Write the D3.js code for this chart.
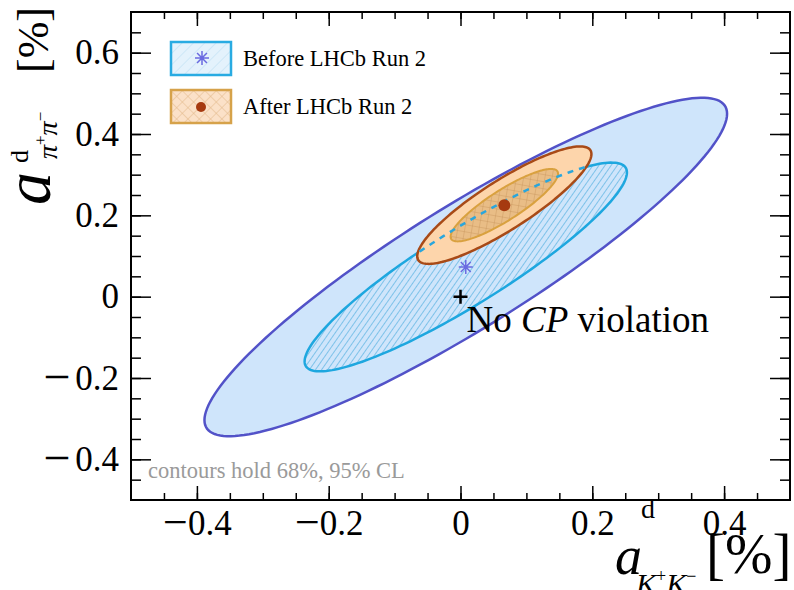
<!DOCTYPE html>
<html>
<head>
<meta charset="utf-8">
<script src="https://cdn.jsdelivr.net/npm/d3@7"></script>
<style>
  body { margin: 0; background: #fff; }
  svg text { font-family: "Liberation Serif", "DejaVu Serif", serif; }
</style>
</head>
<body>
<div id="chart"></div>
<script>
// Fit results [%]: central values, uncertainties and correlation
const samples = ['Before LHCb Run 2', 'After LHCb Run 2'];
const centralKK = [0.008, 0.0665];
const centralPiPi = [0.073, 0.225];
const sigmaKK = [0.162, 0.054];
const sigmaPiPi = [0.170, 0.059];
const correlation = [0.905, 0.87];
// delta chi2 of the 2D contours (68% and 95% CL)
const contourLevels = [2.279, 5.991];

// No CP violation point
const noCP = [0, 0];

// Axis ticks
const xMajorTicks = [-0.4, -0.2, 0, 0.2, 0.4];
const yMajorTicks = [-0.4, -0.2, 0, 0.2, 0.4, 0.6];
const xMinorTicks = d3.range(-0.45, 0.5, 0.05);
const yMinorTicks = d3.range(-0.45, 0.7, 0.05);

const width = 794, height = 590;
const margin = { top: 12, right: 4, bottom: 90, left: 131 };
const tickFont = 35;

const x = d3.scaleLinear().domain([-0.5, 0.5]).range([margin.left, width - margin.right]);
const y = d3.scaleLinear().domain([-0.5, 0.7]).range([height - margin.bottom, margin.top]);

const svg = d3.select('#chart').append('svg')
  .attr('width', width)
  .attr('height', height)
  .attr('font-family', '"Liberation Serif", serif');

// Patterns for the hatched contours
const defs = svg.append('defs');
defs.append('pattern')
  .attr('id', 'hatchBlue')
  .attr('patternUnits', 'userSpaceOnUse')
  .attr('width', 5).attr('height', 5)
  .attr('patternTransform', 'rotate(35)')
  .call(p => p.append('rect').attr('width', 5).attr('height', 5).attr('fill', '#cfe5fb'))
  .call(p => p.append('line').attr('x1', 0).attr('y1', 0).attr('x2', 0).attr('y2', 5)
    .attr('stroke', '#3aa5da').attr('stroke-width', 1.1));
defs.append('pattern')
  .attr('id', 'hatchLegendBlue')
  .attr('patternUnits', 'userSpaceOnUse')
  .attr('width', 8).attr('height', 8)
  .attr('patternTransform', 'rotate(45)')
  .call(p => p.append('rect').attr('width', 8).attr('height', 8).attr('fill', '#e4f2fc'))
  .call(p => p.append('line').attr('x1', 0).attr('y1', 0).attr('x2', 0).attr('y2', 8)
    .attr('stroke', '#b8dcf2').attr('stroke-width', 1));
defs.append('pattern')
  .attr('id', 'crossOrange')
  .attr('patternUnits', 'userSpaceOnUse')
  .attr('width', 7).attr('height', 7)
  .attr('patternTransform', 'rotate(10)')
  .call(p => p.append('rect').attr('width', 7).attr('height', 7).attr('fill', '#e9bd86'))
  .call(p => p.append('path').attr('d', 'M0,0V7M0,0H7')
    .attr('stroke', '#c7935a').attr('stroke-width', 0.8).attr('fill', 'none'));
defs.append('pattern')
  .attr('id', 'crossLegendOrange')
  .attr('patternUnits', 'userSpaceOnUse')
  .attr('width', 8).attr('height', 8)
  .attr('patternTransform', 'rotate(45)')
  .call(p => p.append('rect').attr('width', 8).attr('height', 8).attr('fill', '#fbe1c8'))
  .call(p => p.append('path').attr('d', 'M0,0V8M0,0H8')
    .attr('stroke', '#e2b888').attr('stroke-width', 1).attr('fill', 'none'));

// Contour of a 2D gaussian for sample i at level k
function contour(i, k) {
  const r = Math.sqrt(k);
  const rho = correlation[i];
  return d3.range(0, 360, 2).map(deg => {
    const t = deg * Math.PI / 180;
    return [
      centralKK[i] + r * sigmaKK[i] * Math.cos(t),
      centralPiPi[i] + r * sigmaPiPi[i] * (rho * Math.cos(t) + Math.sqrt(1 - rho * rho) * Math.sin(t))
    ];
  });
}

const line = d3.line()
  .x(d => x(d[0]))
  .y(d => y(d[1]))
  .curve(d3.curveLinearClosed);

const plot = svg.append('g');

// Before LHCb Run 2
plot.append('path')
  .attr('d', line(contour(0, contourLevels[1])))
  .attr('fill', '#cfe5fb')
  .attr('stroke', '#5252c8')
  .attr('stroke-width', 2.5);
plot.append('path')
  .attr('d', line(contour(0, contourLevels[0])))
  .attr('fill', 'url(#hatchBlue)')
  .attr('stroke', '#1ea7df')
  .attr('stroke-width', 2.5);

// After LHCb Run 2
plot.append('path')
  .attr('d', line(contour(1, contourLevels[1])))
  .attr('fill', '#fdd5ab')
  .attr('stroke', '#a84a17')
  .attr('stroke-width', 2.5);
plot.append('path')
  .attr('d', line(contour(1, contourLevels[0])))
  .attr('fill', 'url(#crossOrange)')
  .attr('stroke', '#d9a13f')
  .attr('stroke-width', 2);

// hidden part of the 68% "before" contour, dashed on top
defs.append('clipPath')
  .attr('id', 'afterClip')
  .append('path')
  .attr('d', line(contour(1, contourLevels[1])));
plot.append('path')
  .attr('d', line(contour(0, contourLevels[0])))
  .attr('fill', 'none')
  .attr('stroke', '#2aa6dc')
  .attr('stroke-width', 2.5)
  .attr('stroke-dasharray', '6,6')
  .attr('clip-path', 'url(#afterClip)');

// markers
function asterisk(g, cx, cy, r, color) {
  const p = d3.path();
  for (let a = 0; a < 180; a += 45) {
    const t = a * Math.PI / 180;
    p.moveTo(cx - r * Math.cos(t), cy - r * Math.sin(t));
    p.lineTo(cx + r * Math.cos(t), cy + r * Math.sin(t));
  }
  g.append('path').attr('d', p.toString())
    .attr('stroke', color).attr('stroke-width', 1.5).attr('fill', 'none');
}
asterisk(plot, x(centralKK[0]), y(centralPiPi[0]), 7, '#6a6ae0');
plot.append('circle')
  .attr('cx', x(centralKK[1]))
  .attr('cy', y(centralPiPi[1]))
  .attr('r', 6)
  .attr('fill', '#a63a10');

// No CP violation
const plus = d3.path();
plus.moveTo(x(noCP[0]) - 7, y(noCP[1])); plus.lineTo(x(noCP[0]) + 7, y(noCP[1]));
plus.moveTo(x(noCP[0]), y(noCP[1]) - 7); plus.lineTo(x(noCP[0]), y(noCP[1]) + 7);
plot.append('path').attr('d', plus.toString())
  .attr('stroke', '#000').attr('stroke-width', 2.5);
plot.append('text')
  .attr('x', x(noCP[0]) + 6)
  .attr('y', y(noCP[1]) + 35)
  .attr('font-size', 37)
  .call(t => t.append('tspan').text('No '))
  .call(t => t.append('tspan').attr('font-style', 'italic').text('CP'))
  .call(t => t.append('tspan').text(' violation'));

// Frame
svg.append('rect')
  .attr('x', margin.left)
  .attr('y', margin.top)
  .attr('width', width - margin.left - margin.right)
  .attr('height', height - margin.top - margin.bottom)
  .attr('fill', 'none')
  .attr('stroke', '#000')
  .attr('stroke-width', 2);

const fmt = d => d === 0 ? '0' : d3.format('.1f')(Math.abs(d));
const x0 = height - margin.bottom, y0 = margin.left;

// Axes with inward ticks on all four sides
const xAxis = svg.append('g')
  .attr('transform', `translate(0,${x0})`)
  .call(d3.axisBottom(x).tickValues(xMajorTicks).tickSize(-14).tickPadding(10).tickFormat(fmt))
  .call(g => g.select('.domain').remove());
svg.append('g')
  .attr('transform', `translate(0,${x0})`)
  .call(d3.axisBottom(x).tickValues(xMinorTicks).tickSize(-7).tickFormat(''))
  .call(g => g.select('.domain').remove());
svg.append('g')
  .attr('transform', `translate(0,${margin.top})`)
  .call(d3.axisTop(x).tickValues(xMajorTicks).tickSize(-14).tickFormat(''))
  .call(g => g.select('.domain').remove());
svg.append('g')
  .attr('transform', `translate(0,${margin.top})`)
  .call(d3.axisTop(x).tickValues(xMinorTicks).tickSize(-7).tickFormat(''))
  .call(g => g.select('.domain').remove());

const yAxis = svg.append('g')
  .attr('transform', `translate(${y0},0)`)
  .call(d3.axisLeft(y).tickValues(yMajorTicks).tickSize(-20).tickPadding(12).tickFormat(fmt))
  .call(g => g.select('.domain').remove());
svg.append('g')
  .attr('transform', `translate(${y0},0)`)
  .call(d3.axisLeft(y).tickValues(yMinorTicks).tickSize(-10).tickFormat(''))
  .call(g => g.select('.domain').remove());
svg.append('g')
  .attr('transform', `translate(${width - margin.right},0)`)
  .call(d3.axisRight(y).tickValues(yMajorTicks).tickSize(-20).tickFormat(''))
  .call(g => g.select('.domain').remove());
svg.append('g')
  .attr('transform', `translate(${width - margin.right},0)`)
  .call(d3.axisRight(y).tickValues(yMinorTicks).tickSize(-10).tickFormat(''))
  .call(g => g.select('.domain').remove());

svg.selectAll('.tick line').attr('stroke', '#000').attr('stroke-width', 1.5);
svg.selectAll('g').filter(function() { return this.getAttribute('font-family') === 'sans-serif'; })
  .attr('font-family', '"Liberation Serif", serif');
svg.selectAll('.tick text')
  .attr('font-size', tickFont)
  .attr('fill', '#000');

// long minus sign in front of negative labels
function addMinus(axis, size, gap, shift) {
  axis.selectAll('.tick text').each(function(d) {
    if (d >= 0) return;
    const t = d3.select(this);
    const digits = t.text();
    const baseDy = parseFloat(t.attr('dy')) * tickFont;
    t.attr('dy', null).text(null);
    t.append('tspan').attr('font-size', size).attr('dy', baseDy + shift).text('−');
    t.append('tspan').attr('dx', gap).attr('dy', -shift).text(digits);
  });
}
addMinus(xAxis, 44, 0, 2);
addMinus(yAxis, 48, 5, 3);

// Axis titles
const xTitle = svg.append('g');
xTitle.append('text').attr('x', 615).attr('y', 574).attr('font-size', 54)
  .attr('font-style', 'italic').text('a');
xTitle.append('text').attr('x', 641).attr('y', 518).attr('font-size', 28).text('d');
xTitle.append('text').attr('x', 636).attr('y', 594).attr('font-size', 30)
  .call(t => t.append('tspan').attr('font-style', 'italic').text('K'))
  .call(t => t.append('tspan').attr('font-size', 18).attr('dy', -12).text('+'))
  .call(t => t.append('tspan').attr('font-style', 'italic').attr('dy', 12).text('K'))
  .call(t => t.append('tspan').attr('font-size', 18).attr('dy', -12).text('−'));
xTitle.append('text').attr('x', 706).attr('y', 573).attr('font-size', 57).text('[%]');

const yTitle = svg.append('g')
  .attr('transform', 'translate(50,205) rotate(-90)');
yTitle.append('text').attr('x', 0).attr('y', 0).attr('font-size', 66)
  .attr('font-style', 'italic')
  .text('a');
yTitle.append('text').attr('x', 42).attr('y', -22).attr('font-size', 26).text('d');
yTitle.append('text').attr('x', 46).attr('y', 7).attr('font-size', 28)
  .call(t => t.append('tspan').attr('font-style', 'italic').text('π'))
  .call(t => t.append('tspan').attr('font-size', 17).attr('dy', -11).text('+'))
  .call(t => t.append('tspan').attr('font-style', 'italic').attr('dy', 11).text('π'))
  .call(t => t.append('tspan').attr('font-size', 17).attr('dy', -11).text('−'));
yTitle.append('text').attr('x', 132).attr('y', -2).attr('font-size', 44).text('[%]');

// Legend
const legendFills = ['url(#hatchLegendBlue)', 'url(#crossLegendOrange)'];
const legendStrokes = ['#29abe2', '#d6a24a'];
const legend = svg.append('g').attr('transform', 'translate(171,42)');
const items = legend.selectAll('.legend')
  .data(samples)
  .join('g')
  .attr('class', 'legend')
  .attr('transform', (d, i) => `translate(0, ${i * 48})`);
items.append('rect')
  .attr('width', 60).attr('height', 33)
  .attr('fill', (d, i) => legendFills[i])
  .attr('stroke', (d, i) => legendStrokes[i])
  .attr('stroke-width', 2.5);
items.append('text')
  .attr('x', 72).attr('y', 24)
  .attr('font-size', 22.5)
  .text(d => d);
asterisk(items.filter((d, i) => i === 0), 31, 16, 7, '#6a6ae0');
items.filter((d, i) => i === 1).append('circle')
  .attr('cx', 30).attr('cy', 17).attr('r', 5).attr('fill', '#a63a10');

// note
svg.append('text')
  .attr('x', 148).attr('y', 478)
  .attr('font-size', 22.5)
  .attr('fill', '#9a9a9a')
  .text('contours hold 68%, 95% CL');
</script>
</body>
</html>
